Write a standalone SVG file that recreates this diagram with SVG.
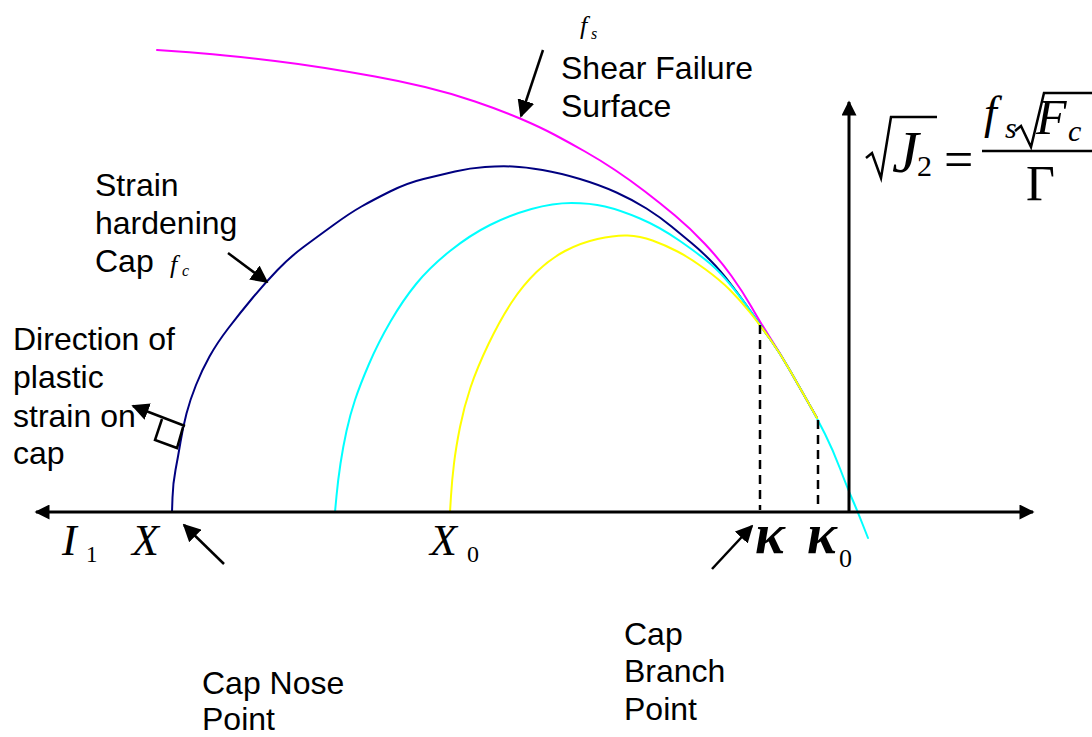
<svg xmlns="http://www.w3.org/2000/svg" width="1092" height="737" viewBox="0 0 1092 737">
<defs>
<style>
.lbl{font-family:"Liberation Sans",Arial,sans-serif;font-size:32px;fill:#000}
.m{font-family:"Liberation Serif","Times New Roman",serif;font-style:italic;fill:#000}
.r{font-family:"Liberation Serif","Times New Roman",serif;fill:#000}
.axis{stroke:#000;stroke-width:3;fill:none}
.arr{stroke:#000;stroke-width:2.5;fill:none}
.curve{fill:none;stroke-width:2;stroke-linejoin:round;stroke-linecap:round}
.dash{stroke:#000;stroke-width:2.5;stroke-dasharray:9,6;fill:none}
</style>
<marker id="ah" viewBox="0 0 10 10" refX="9" refY="5" markerWidth="7" markerHeight="7" markerUnits="strokeWidth" orient="auto">
<path d="M0,0 L10,5 L0,10 z" fill="#000"/>
</marker>
<marker id="axh" viewBox="0 0 10 10" refX="9" refY="5" markerWidth="6" markerHeight="5" markerUnits="strokeWidth" orient="auto">
<path d="M0,0 L10,5 L0,10 z" fill="#000"/>
</marker>
</defs>
<rect width="1092" height="737" fill="#fff"/>

<g id="curves">
<path class="curve" stroke="#ff00ff" d="M157,50 L178.5,51.5 Q200,53 225,55.5 Q250,58 275,61 Q300,64 325,68 Q350,72 375,76.5 Q400,81 425,87 Q450,93 475,101.5 Q500,110 520,118.5 Q540,127 555,135 Q570,143 585,151.5 Q600,160 615,170 Q630,180 645,191.5 Q660,203 675,215.5 Q690,228 705,244 Q720,260 731.5,276 Q743,292 751.5,307 Q760,322 770,337.5 Q780,353 790,370.5 Q800,388 808.5,403 L817,418"/>
<path class="curve" stroke="#000080" d="M172,512 L172.5,497.5 Q173,483 175.5,470 Q178,457 180.5,442 Q183,427 186.5,413.5 Q190,400 196,385 Q202,370 209.5,356.5 Q217,343 228.5,328 Q240,313 252.5,298 Q265,283 277.5,270 Q290,257 303.5,247 Q317,237 333.5,225 Q350,213 361.5,206.5 Q373,200 390,191.5 Q407,183 423.5,179 Q440,175 455,171.5 Q470,168 485,167 Q500,166 512.5,166.5 Q525,167 542.5,170 Q560,173 580,179 Q600,185 616.5,192.5 Q633,200 646.5,208.5 Q660,217 671.5,226.5 Q683,236 691.5,243 Q700,250 710,260 Q720,270 731.5,285 Q743,300 751.5,312.5 Q760,325 770,339 Q780,353 790,370.5 Q800,388 808.5,403 L817,418"/>
<path class="curve" stroke="#00ffff" d="M335,512 L336.5,496 Q338,480 340.5,463.5 Q343,447 346.5,431 Q350,415 355,400 Q360,385 369,364 Q378,343 390.5,321.5 Q403,300 416.5,283.5 Q430,267 450,251 Q470,235 490,225 Q510,215 531.5,209 Q553,203 571.5,203 Q590,203 605,206.5 Q620,210 640,218.5 Q660,227 680,241 Q700,255 710,263.5 Q720,272 731.5,286 Q743,300 751.5,312.5 Q760,325 770,339 Q780,353 790,370.5 Q800,388 808.5,403 Q817,418 825,434 Q833,450 840,468.5 Q847,487 852,498.5 Q857,510 862.5,524 L868,538"/>
<path class="curve" stroke="#ffff00" d="M450,512 L451,496 Q452,480 454,463.5 Q456,447 460,427 Q464,407 470.5,387.5 Q477,368 488.5,344 Q500,320 511.5,302.5 Q523,285 536.5,272 Q550,259 565,251 Q580,243 597.5,239 Q615,235 627.5,235.5 Q640,236 652.5,240.5 Q665,245 677.5,251.5 Q690,258 705,269 Q720,280 730,290 Q740,300 750,312.5 Q760,325 770,339 Q780,353 790,370.5 Q800,388 808.5,403 L817,418"/>
</g>

<g id="axes">
<line class="axis" x1="849" y1="512" x2="849" y2="102" marker-end="url(#axh)"/>
<line class="axis" x1="60" y1="512" x2="36" y2="512" marker-end="url(#axh)"/>
<line class="axis" x1="60" y1="512" x2="1033" y2="512" marker-end="url(#axh)"/>
</g>

<g id="connectors">
<line class="dash" x1="760" y1="325" x2="760" y2="510"/>
<line class="dash" x1="818" y1="420" x2="818" y2="510"/>
<line class="arr" x1="543" y1="50" x2="521" y2="116" marker-end="url(#ah)"/>
<line class="arr" x1="228" y1="253" x2="267" y2="282" marker-end="url(#ah)"/>
<line class="arr" x1="185" y1="426" x2="133" y2="406" marker-end="url(#ah)"/>
<line class="arr" x1="224" y1="564" x2="184" y2="525" marker-end="url(#ah)"/>
<line class="arr" x1="712" y1="569" x2="752" y2="526" marker-end="url(#ah)"/>
<polyline class="arr" points="162,419 155,440 177,448 183,427"/>
</g>

<g id="shear-label">
<text class="m" x="580" y="34" font-size="26">f</text>
<text class="m" x="591" y="39" font-size="16">s</text>
<text class="lbl" x="561" y="79">Shear Failure</text>
<text class="lbl" x="561" y="117">Surface</text>
</g>

<g id="cap-label">
<text class="lbl" x="95" y="196">Strain</text>
<text class="lbl" x="95" y="234">hardening</text>
<text class="lbl" x="95" y="272">Cap</text>
<text class="m" x="170" y="273" font-size="26">f</text>
<text class="m" x="182" y="276" font-size="16">c</text>
</g>

<g id="direction-label">
<text class="lbl" x="13" y="350">Direction of</text>
<text class="lbl" x="13" y="388">plastic</text>
<text class="lbl" x="13" y="427">strain on</text>
<text class="lbl" x="13" y="464">cap</text>
</g>

<g id="nose-label">
<text class="lbl" x="202" y="694">Cap Nose</text>
<text class="lbl" x="202" y="730">Point</text>
</g>

<g id="branch-label">
<text class="lbl" x="624" y="645">Cap</text>
<text class="lbl" x="624" y="682">Branch</text>
<text class="lbl" x="624" y="720">Point</text>
</g>

<g id="axis-labels">
<text class="m" x="62" y="555" font-size="44">I</text>
<text class="r" x="86" y="562" font-size="23">1</text>
<text class="m" x="132" y="555" font-size="44">X</text>
<text class="m" x="430" y="555" font-size="44">X</text>
<text class="r" x="467" y="562" font-size="24">0</text>
<text class="m" x="755" y="553" font-size="56" font-weight="bold">κ</text>
<text class="m" x="807" y="553" font-size="56" font-weight="bold">κ</text>
<text class="r" x="839" y="567" font-size="26">0</text>
</g>

<g id="equation">
<path d="M866,158 L872,153 L881,178 L891,117 L937,117" fill="none" stroke="#000" stroke-width="2.5" stroke-linejoin="miter"/>
<text class="m" x="892" y="172" font-size="60">J</text>
<text class="r" x="917" y="176" font-size="30">2</text>
<text class="r" x="944" y="177" font-size="52">=</text>
<line x1="982" y1="151" x2="1092" y2="151" stroke="#000" stroke-width="2.5"/>
<text class="m" x="984" y="128" font-size="46">f</text>
<text class="m" x="1005" y="138" font-size="30">s</text>
<path d="M1015,131 L1021,126 L1031,147 L1044,93 L1092,93" fill="none" stroke="#000" stroke-width="2.5"/>
<text class="m" x="1036" y="134" font-size="50">F</text>
<text class="m" x="1068" y="141" font-size="30">c</text>
<text class="r" x="1026" y="200" font-size="50">Γ</text>
</g>
</svg>
